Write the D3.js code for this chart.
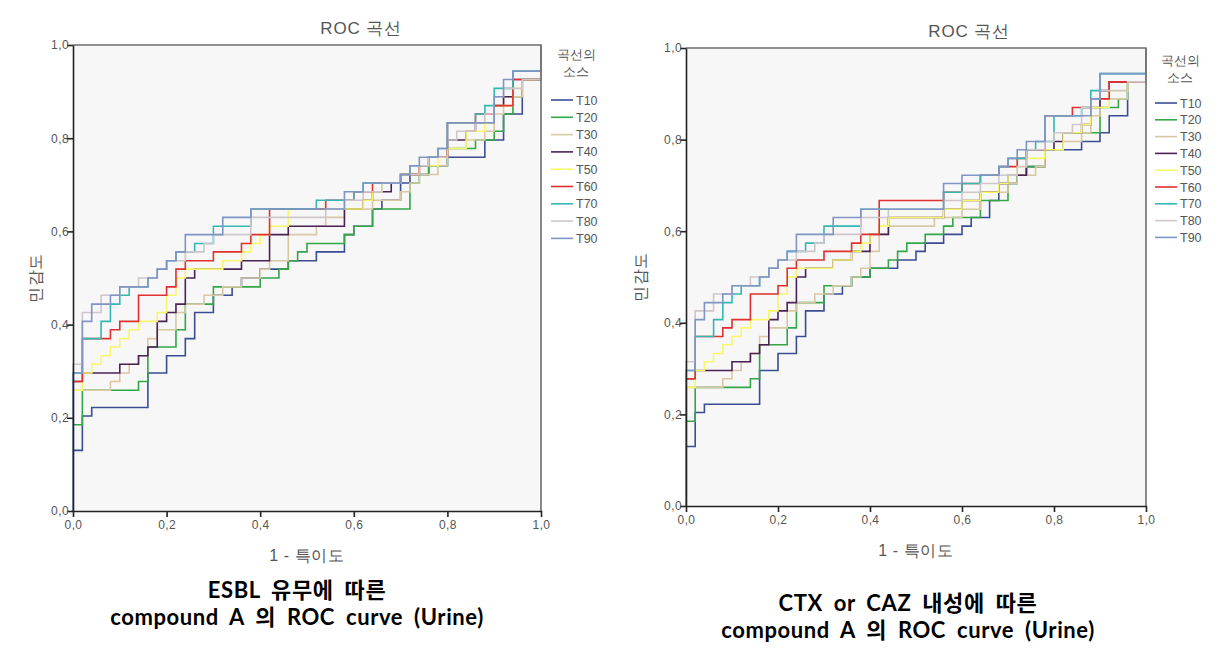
<!DOCTYPE html>
<html><head><meta charset="utf-8">
<script src="https://cdn.jsdelivr.net/npm/d3@7"></script>
<style>
body{margin:0;background:#fff;}
svg text{font-family:"Liberation Sans","DejaVu Sans",sans-serif;}
svg text.cap{font-family:"Lato","Noto Sans CJK KR",sans-serif;}
</style></head>
<body><svg id="c" width="1228" height="652"></svg>
<script>
// ---------- data ----------
const seriesNames = ["T10","T20","T30","T40","T50","T60","T70","T80","T90"];
const tickValues = [0,0.2,0.4,0.6,0.8,1.0];
const tickLabels = ["0,0","0,2","0,4","0,6","0,8","1,0"];

// ESBL chart: [1-specificity, sensitivity] rise points of each staircase
const esblT10 = [[0,0],[0,0.13],[0.02,0.204],[0.04,0.222],[0.16,0.296],[0.20,0.333],[0.24,0.37],[0.26,0.426],[0.30,0.463],[0.34,0.481],[0.36,0.5],[0.40,0.519],[0.46,0.537],[0.52,0.556],[0.58,0.593],[0.60,0.611],[0.64,0.648],[0.66,0.667],[0.70,0.704],[0.72,0.722],[0.76,0.741],[0.80,0.759],[0.88,0.796],[0.92,0.852],[0.96,0.926],[1,1]];
const esblT20 = [[0,0],[0,0.185],[0.02,0.259],[0.14,0.278],[0.16,0.352],[0.22,0.389],[0.24,0.444],[0.30,0.481],[0.40,0.5],[0.44,0.519],[0.46,0.537],[0.48,0.556],[0.50,0.574],[0.58,0.593],[0.60,0.611],[0.64,0.648],[0.72,0.704],[0.74,0.722],[0.76,0.741],[0.80,0.778],[0.86,0.796],[0.90,0.815],[0.92,0.852],[0.94,0.889],[0.96,0.926],[1,1]];
const esblT30 = [[0,0],[0,0.259],[0.08,0.278],[0.10,0.296],[0.12,0.315],[0.14,0.333],[0.16,0.37],[0.18,0.389],[0.22,0.426],[0.24,0.444],[0.28,0.463],[0.32,0.481],[0.36,0.5],[0.40,0.519],[0.42,0.537],[0.46,0.593],[0.52,0.611],[0.54,0.63],[0.58,0.648],[0.64,0.667],[0.70,0.685],[0.72,0.704],[0.74,0.722],[0.78,0.741],[0.80,0.778],[0.84,0.796],[0.88,0.815],[0.90,0.852],[0.92,0.889],[0.96,0.926],[1,1]];
const esblT40 = [[0,0],[0,0.278],[0.02,0.296],[0.10,0.315],[0.14,0.333],[0.16,0.352],[0.18,0.407],[0.20,0.426],[0.22,0.444],[0.24,0.5],[0.26,0.519],[0.36,0.537],[0.42,0.593],[0.46,0.611],[0.58,0.648],[0.62,0.667],[0.64,0.685],[0.68,0.704],[0.70,0.722],[0.74,0.741],[0.76,0.759],[0.80,0.796],[0.84,0.815],[0.86,0.833],[0.90,0.87],[0.92,0.889],[0.94,0.926],[1,1]];
const esblT50 = [[0,0],[0,0.259],[0.02,0.296],[0.04,0.315],[0.06,0.333],[0.08,0.352],[0.10,0.37],[0.12,0.389],[0.14,0.407],[0.18,0.426],[0.20,0.463],[0.22,0.5],[0.24,0.519],[0.32,0.537],[0.36,0.556],[0.38,0.574],[0.40,0.593],[0.42,0.611],[0.46,0.648],[0.62,0.667],[0.64,0.685],[0.66,0.704],[0.70,0.722],[0.74,0.741],[0.78,0.759],[0.80,0.778],[0.84,0.815],[0.88,0.833],[0.90,0.87],[0.94,0.907],[0.96,0.926],[1,1]];
const esblT60 = [[0,0],[0,0.278],[0.02,0.37],[0.08,0.389],[0.10,0.407],[0.14,0.463],[0.20,0.481],[0.22,0.519],[0.24,0.537],[0.30,0.556],[0.36,0.574],[0.38,0.593],[0.42,0.648],[0.54,0.667],[0.60,0.685],[0.64,0.704],[0.70,0.722],[0.74,0.741],[0.76,0.759],[0.80,0.833],[0.86,0.852],[0.90,0.87],[0.94,0.926],[1,1]];
const esblT70 = [[0,0],[0,0.296],[0.02,0.37],[0.06,0.407],[0.08,0.444],[0.10,0.463],[0.12,0.481],[0.16,0.5],[0.18,0.519],[0.20,0.537],[0.22,0.556],[0.26,0.574],[0.30,0.611],[0.38,0.648],[0.52,0.667],[0.60,0.685],[0.62,0.704],[0.70,0.722],[0.72,0.741],[0.76,0.759],[0.78,0.778],[0.80,0.833],[0.86,0.852],[0.88,0.87],[0.90,0.907],[0.94,0.944],[1,1]];
const esblT80 = [[0,0],[0,0.315],[0.02,0.426],[0.06,0.463],[0.10,0.481],[0.14,0.5],[0.18,0.519],[0.20,0.537],[0.24,0.556],[0.28,0.574],[0.30,0.593],[0.38,0.63],[0.54,0.648],[0.58,0.667],[0.62,0.685],[0.66,0.704],[0.70,0.722],[0.74,0.741],[0.76,0.759],[0.80,0.796],[0.82,0.815],[0.86,0.833],[0.88,0.852],[0.90,0.889],[0.92,0.907],[0.96,0.926],[1,1]];
const esblT90 = [[0,0],[0,0.296],[0.02,0.407],[0.04,0.444],[0.08,0.463],[0.10,0.481],[0.16,0.5],[0.18,0.519],[0.20,0.537],[0.22,0.556],[0.24,0.593],[0.32,0.63],[0.38,0.648],[0.58,0.685],[0.62,0.704],[0.70,0.722],[0.72,0.741],[0.74,0.759],[0.78,0.778],[0.80,0.833],[0.90,0.889],[0.92,0.926],[0.94,0.944],[1,1]];

// CTX or CAZ chart
const ctxT10 = [[0,0],[0,0.13],[0.02,0.204],[0.04,0.222],[0.16,0.296],[0.20,0.333],[0.24,0.37],[0.26,0.426],[0.30,0.463],[0.34,0.481],[0.36,0.5],[0.40,0.519],[0.46,0.537],[0.50,0.556],[0.52,0.574],[0.56,0.593],[0.60,0.611],[0.62,0.63],[0.66,0.667],[0.68,0.704],[0.72,0.722],[0.74,0.741],[0.78,0.778],[0.86,0.796],[0.90,0.815],[0.92,0.852],[0.96,0.926],[1,1]];
const ctxT20 = [[0,0],[0,0.185],[0.02,0.259],[0.14,0.278],[0.16,0.352],[0.22,0.389],[0.24,0.444],[0.30,0.481],[0.36,0.5],[0.40,0.519],[0.44,0.537],[0.46,0.556],[0.48,0.574],[0.52,0.593],[0.56,0.611],[0.58,0.63],[0.64,0.667],[0.70,0.704],[0.72,0.722],[0.74,0.741],[0.78,0.778],[0.82,0.815],[0.90,0.87],[0.94,0.889],[0.96,0.926],[1,1]];
const ctxT30 = [[0,0],[0,0.259],[0.08,0.278],[0.10,0.296],[0.12,0.315],[0.14,0.333],[0.16,0.37],[0.18,0.389],[0.22,0.426],[0.24,0.444],[0.28,0.463],[0.32,0.481],[0.36,0.5],[0.38,0.519],[0.40,0.556],[0.42,0.593],[0.44,0.611],[0.54,0.63],[0.60,0.648],[0.64,0.685],[0.70,0.704],[0.72,0.722],[0.76,0.741],[0.78,0.778],[0.82,0.796],[0.86,0.815],[0.88,0.852],[0.90,0.889],[0.96,0.926],[1,1]];
const ctxT40 = [[0,0],[0,0.278],[0.02,0.296],[0.10,0.315],[0.14,0.333],[0.16,0.352],[0.18,0.407],[0.20,0.426],[0.22,0.444],[0.24,0.5],[0.26,0.519],[0.32,0.537],[0.36,0.556],[0.40,0.593],[0.44,0.63],[0.56,0.648],[0.60,0.667],[0.64,0.685],[0.68,0.704],[0.70,0.722],[0.74,0.778],[0.80,0.796],[0.82,0.815],[0.86,0.833],[0.88,0.87],[0.90,0.907],[0.92,0.926],[1,1]];
const ctxT50 = [[0,0],[0,0.259],[0.02,0.296],[0.04,0.315],[0.06,0.333],[0.08,0.352],[0.10,0.37],[0.12,0.389],[0.14,0.407],[0.18,0.426],[0.20,0.463],[0.22,0.5],[0.24,0.519],[0.32,0.537],[0.36,0.556],[0.38,0.574],[0.40,0.593],[0.42,0.611],[0.44,0.63],[0.56,0.648],[0.60,0.667],[0.64,0.685],[0.68,0.704],[0.70,0.722],[0.72,0.741],[0.74,0.759],[0.78,0.778],[0.82,0.815],[0.86,0.833],[0.88,0.87],[0.92,0.907],[0.96,0.926],[1,1]];
const ctxT60 = [[0,0],[0,0.278],[0.02,0.37],[0.08,0.389],[0.10,0.407],[0.14,0.463],[0.20,0.481],[0.22,0.519],[0.24,0.537],[0.30,0.556],[0.36,0.574],[0.38,0.593],[0.42,0.667],[0.56,0.685],[0.60,0.704],[0.64,0.722],[0.68,0.741],[0.72,0.759],[0.74,0.778],[0.78,0.852],[0.84,0.87],[0.88,0.889],[0.92,0.926],[1,1]];
const ctxT70 = [[0,0],[0,0.296],[0.02,0.37],[0.06,0.407],[0.08,0.444],[0.10,0.463],[0.12,0.481],[0.16,0.5],[0.18,0.519],[0.20,0.537],[0.22,0.556],[0.26,0.574],[0.30,0.611],[0.38,0.648],[0.56,0.685],[0.60,0.704],[0.64,0.722],[0.68,0.741],[0.70,0.759],[0.74,0.778],[0.76,0.796],[0.80,0.852],[0.86,0.87],[0.88,0.907],[0.90,0.944],[1,1]];
const ctxT80 = [[0,0],[0,0.315],[0.02,0.426],[0.06,0.463],[0.10,0.481],[0.14,0.5],[0.18,0.519],[0.20,0.537],[0.24,0.556],[0.28,0.574],[0.30,0.593],[0.38,0.63],[0.44,0.648],[0.56,0.667],[0.60,0.685],[0.64,0.704],[0.68,0.722],[0.72,0.741],[0.74,0.778],[0.78,0.796],[0.80,0.815],[0.84,0.833],[0.86,0.87],[0.88,0.889],[0.90,0.907],[0.96,0.926],[1,1]];
const ctxT90 = [[0,0],[0,0.296],[0.02,0.407],[0.04,0.444],[0.08,0.463],[0.10,0.481],[0.16,0.5],[0.18,0.519],[0.20,0.537],[0.22,0.556],[0.24,0.593],[0.32,0.63],[0.38,0.648],[0.56,0.704],[0.60,0.722],[0.68,0.741],[0.70,0.759],[0.72,0.778],[0.74,0.796],[0.78,0.852],[0.88,0.889],[0.90,0.944],[1,1]];

const esblSeries = [esblT10,esblT20,esblT30,esblT40,esblT50,esblT60,esblT70,esblT80,esblT90];
const ctxSeries = [ctxT10,ctxT20,ctxT30,ctxT40,ctxT50,ctxT60,ctxT70,ctxT80,ctxT90];

const chartTitle = "ROC 곡선";
const xTitle = "1 - 특이도";
const yTitle = "민감도";
const legendTitle = ["곡선의","소스"];
const captionLeft = ["ESBL 유무에 따른","compound A 의 ROC curve (Urine)"];
const captionRight = ["CTX or CAZ 내성에 따른","compound A 의 ROC curve (Urine)"];

// ---------- style ----------
const colors = ["#3b4d94","#34a647","#d8c8a4","#4b2255","#f7f76c","#e0302f","#35b7b4","#cfc6cc","#7f95c4"];
const svg = d3.select("#c");

function drawChart(o){
  const g = svg.append("g");
  const x = d3.scaleLinear().domain([0,1]).range([o.x0,o.x1]);
  const y = d3.scaleLinear().domain([0,1]).range([o.y1,o.y0]);
  g.append("rect").attr("x",o.x0).attr("y",o.y0).attr("width",o.x1-o.x0).attr("height",o.y1-o.y0)
    .attr("fill","#f7f7f7");
  const line = d3.line().x(d=>x(d[0])).y(d=>y(d[1])).curve(d3.curveStepAfter);
  o.series.forEach((s,i)=>{
    g.append("path").datum(s).attr("d",line).attr("fill","none")
      .attr("stroke",colors[i]).attr("stroke-width",1.6);
  });
  // frame top/right
  g.append("path").attr("d",`M${o.x0},${o.y0}H${o.x1}V${o.y1}`).attr("fill","none")
    .attr("stroke","#6e6e6e").attr("stroke-width",1.6);
  const xa = g.append("g").attr("transform",`translate(0,${o.y1})`)
    .call(d3.axisBottom(x).tickValues(tickValues).tickFormat((d,i)=>tickLabels[i]).tickSize(6).tickSizeOuter(0));
  const ya = g.append("g").attr("transform",`translate(${o.x0},0)`)
    .call(d3.axisLeft(y).tickValues(tickValues).tickFormat((d,i)=>tickLabels[i]).tickSize(6).tickSizeOuter(0));
  [xa,ya].forEach(a=>{
    a.select(".domain").attr("stroke","#222").attr("stroke-width",1.6);
    a.selectAll(".tick line").attr("stroke","#222").attr("stroke-width",1.6);
    a.selectAll(".tick text").attr("fill","#555").attr("font-size",12)
      .attr("letter-spacing",0.4);
  });
  xa.selectAll(".tick text").attr("dy","0.9em").attr("y",7);
  ya.selectAll(".tick text").attr("x",-4);
  // titles
  g.append("text").attr("x",o.titleX).attr("y",o.titleY).attr("text-anchor","middle")
    .attr("font-size",17).attr("letter-spacing",0.8).attr("fill","#555").text(chartTitle);
  g.append("text").attr("x",(o.x0+o.x1)/2).attr("y",o.xTitleY).attr("text-anchor","middle")
    .attr("font-size",16).attr("letter-spacing",0.6).attr("fill","#555").text(xTitle);
  g.append("text").attr("transform",`translate(${o.yTitleX},${(o.y0+o.y1)/2}) rotate(-90)`)
    .attr("text-anchor","middle").attr("font-size",16).attr("letter-spacing",0.5).attr("fill","#555").text(yTitle);
  // legend
  legendTitle.forEach((t,i)=>{
    g.append("text").attr("x",o.legX+14).attr("y",o.legTitleY+i*17).attr("text-anchor","middle")
      .attr("font-size",13).attr("fill","#555").text(t);
  });
  seriesNames.forEach((n,i)=>{
    const yy = o.legY + i*o.legStep;
    g.append("line").attr("x1",o.legX-11).attr("x2",o.legX+11).attr("y1",yy).attr("y2",yy)
      .attr("stroke",colors[i]).attr("stroke-width",1.6);
    g.append("text").attr("x",o.legX+14).attr("y",yy+4.5).attr("font-size",12.5).attr("fill","#555").text(n);
  });
  o.caption.forEach((t,i)=>{
    g.append("text").attr("class","cap").attr("x",o.capX).attr("y",o.capY+i*27).attr("text-anchor","middle")
      .attr("font-size",22).attr("font-weight","bold").attr("fill","#000")
      .attr("word-spacing",5).attr("letter-spacing",0.6)
      .text(t);
  });
}

drawChart({series:esblSeries,x0:73,x1:541,y0:45,y1:511,titleX:361,titleY:34,xTitleY:561,yTitleX:41,
  legX:562,legTitleY:59,legY:100,legStep:17.3,caption:captionLeft,capX:297,capY:598});
drawChart({series:ctxSeries,x0:686,x1:1146,y0:48,y1:506,titleX:969,titleY:37,xTitleY:556,yTitleX:646,
  legX:1166,legTitleY:65,legY:103,legStep:16.8,caption:captionRight,capX:908,capY:611});
</script></body></html>
